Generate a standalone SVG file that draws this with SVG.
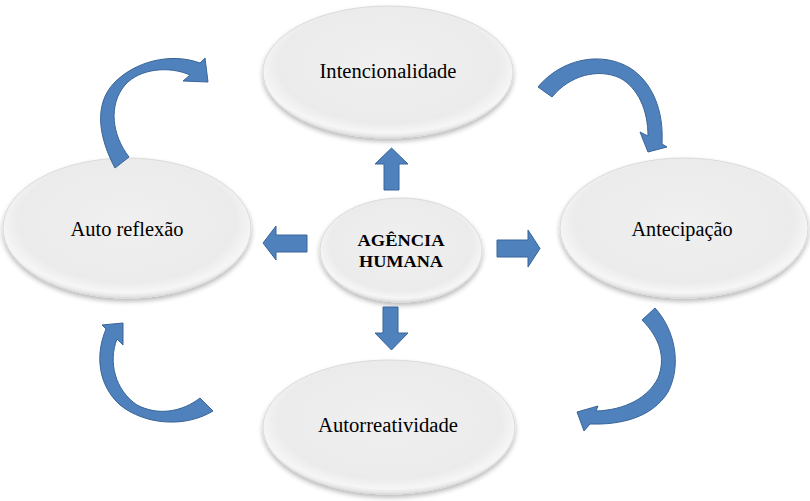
<svg xmlns="http://www.w3.org/2000/svg" width="810" height="501" viewBox="0 0 810 501">
  <defs>
    <radialGradient id="ellFill" cx="50%" cy="45%" r="55%">
      <stop offset="0%" stop-color="#f0f0f0"/>
      <stop offset="80%" stop-color="#ebebeb"/>
      <stop offset="93%" stop-color="#f6f6f6"/>
      <stop offset="100%" stop-color="#e0e0e0"/>
    </radialGradient>
    <filter id="shadow" x="-10%" y="-10%" width="120%" height="130%">
      <feGaussianBlur in="SourceAlpha" stdDeviation="2.5"/>
      <feOffset dx="0" dy="3" result="b"/>
      <feComponentTransfer><feFuncA type="linear" slope="0.28"/></feComponentTransfer>
      <feMerge><feMergeNode/><feMergeNode in="SourceGraphic"/></feMerge>
    </filter>
  </defs>
  <style>
    .ell { fill: url(#ellFill); stroke: #dadada; stroke-width: 1; filter: url(#shadow); }
    .arr { fill: #4f81bd; stroke: #3a6598; stroke-width: 1; stroke-linejoin: round; }
    text { font-family: "Liberation Serif", "DejaVu Serif", "Times New Roman", serif; fill: #000; text-anchor: middle; }
    .lbl { font-size: 20px; }
    .ctr { font-size: 17px; font-weight: bold; }
  </style>

  <g id="node-intencionalidade">
    <ellipse class="ell" cx="388" cy="72" rx="125" ry="66"/>
    <text class="lbl" x="388" y="78" textLength="137" lengthAdjust="spacingAndGlyphs">Intencionalidade</text>
  </g>
  <g id="node-autoreflexao">
    <ellipse class="ell" cx="127" cy="228" rx="124" ry="70"/>
    <text class="lbl" x="127" y="236" textLength="113" lengthAdjust="spacingAndGlyphs">Auto reflexão</text>
  </g>
  <g id="node-antecipacao">
    <ellipse class="ell" cx="684" cy="228" rx="124" ry="70"/>
    <text class="lbl" x="682" y="236" textLength="101" lengthAdjust="spacingAndGlyphs">Antecipação</text>
  </g>
  <g id="node-autorreatividade">
    <ellipse class="ell" cx="389" cy="427" rx="126" ry="67"/>
    <text class="lbl" x="388" y="432" textLength="140" lengthAdjust="spacingAndGlyphs">Autorreatividade</text>
  </g>
  <g id="node-agencia">
    <ellipse class="ell" cx="401" cy="250" rx="81" ry="52"/>
    <text class="ctr" x="401" y="246" textLength="87" lengthAdjust="spacingAndGlyphs">AGÊNCIA</text>
    <text class="ctr" x="401" y="267" textLength="84" lengthAdjust="spacingAndGlyphs">HUMANA</text>
  </g>

  <g id="connectors">
    <polygon class="arr" points="391.5,148 408,164 399,164 399,190 384,190 384,164 375,164"/>
    <polygon class="arr" points="263,243 276,226 276,235 307,235 307,252 276,252 276,260"/>
    <polygon class="arr" points="497,240 528,240 528,230 540,248.5 528,267 528,257 497,257"/>
    <polygon class="arr" points="383,307 398,307 398,333 408,333 391.5,350 375,333 383,333"/>
    <path class="arr" d="M115,168 C100,140 92,105 115,82 C135,62 170,52 200,63 L205,58 L208,82 L183,81 L190,75 C170,66 140,68 125,85 C108,105 112,135 129,157 Z"/>
    <path class="arr" d="M538,87 C560,60 600,50 630,68 C652,82 664,110 662,144 L667,147 L648,152 L640,132 L648,136 C648,110 638,88 620,78 C598,68 570,75 552,97 Z"/>
    <path class="arr" d="M655,308 C675,330 682,365 668,392 C652,418 620,425 590,424 L584,431 L577,412 L598,406 L596,411 C625,410 648,398 658,378 C666,358 660,338 642,320 Z"/>
    <path class="arr" d="M213,411 C185,428 145,425 120,405 C98,385 95,355 106,329 L102,325 L123,323 L123,345 L117,339 C108,362 115,390 137,405 C158,416 182,412 200,398 Z"/>
  </g>
</svg>
